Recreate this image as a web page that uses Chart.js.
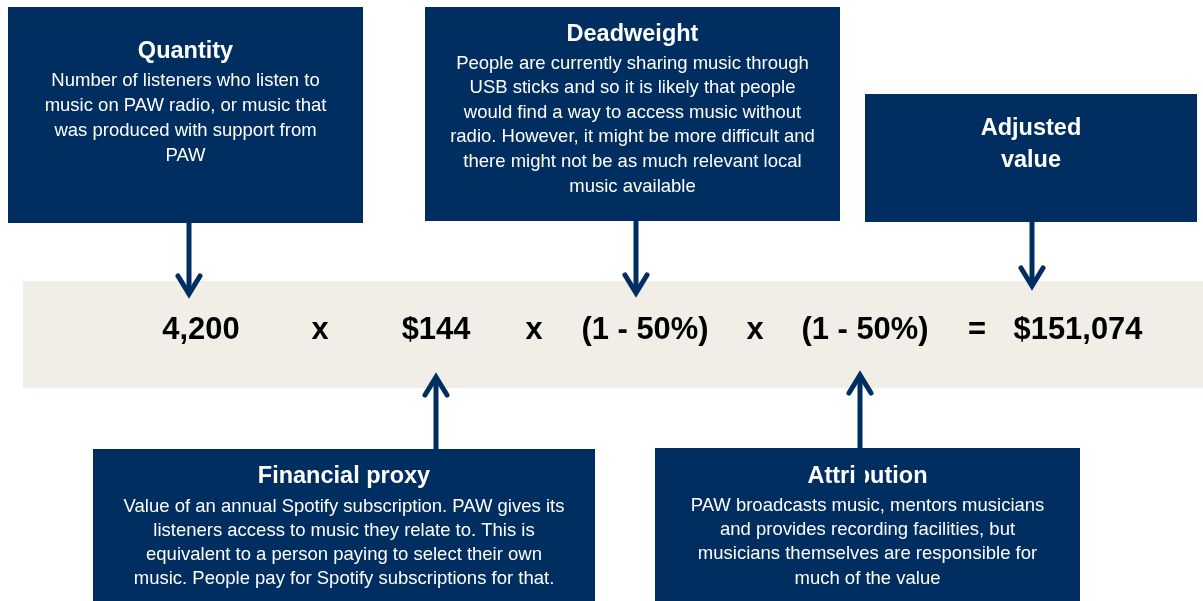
<!DOCTYPE html>
<html>
<head>
<meta charset="utf-8">
<script src="https://cdn.jsdelivr.net/npm/chart.js@4/dist/chart.umd.min.js"></script>
<style>
  html, body { margin: 0; padding: 0; background: #ffffff; }
  #wrap { width: 1203px; height: 601px; position: relative; }
</style>
</head>
<body>
<div id="wrap"><canvas id="c"></canvas></div>
<script>
// ---- data ----
const quantity = 4200;           // listeners
const financialProxy = 144;      // $ per year
const deadweight = 0.5;          // 50%
const attribution = 0.5;         // 50%
const adjustedValue = 151074;    // $ (as shown)

const boxTitles = ["Quantity", "Deadweight", "Adjusted value", "Financial proxy", "Attribution"];
const boxTexts = [
  ["Number of listeners who listen to", "music on PAW radio, or music that", "was produced with support from", "PAW"],
  ["People are currently sharing music through", "USB sticks and so it is likely that people", "would find a way to access music without", "radio. However, it might be more difficult and", "there might not be as much relevant local", "music available"],
  [],
  ["Value of an annual Spotify subscription. PAW gives its", "listeners access to music they relate to. This is", "equivalent to a person paying to select their own", "music. People pay for Spotify subscriptions for that."],
  ["PAW broadcasts music, mentors musicians", "and provides recording facilities, but", "musicians themselves are responsible for", "much of the value"]
];

// ---- layout (pixels in a 1203 x 601 coordinate space) ----
const NAVY = '#002e60';
const BAND = '#f1eee8';
const boxLayout = [
  { x0: 8,   x1: 363,  y0: 7,   y1: 223, titleY: 51.5, titleLines: ["Quantity"], textY: 80.5, lineH: 25 },
  { x0: 425, x1: 840,  y0: 7,   y1: 221, titleY: 34.5, titleLines: ["Deadweight"], textY: 63.5, lineH: 24.6 },
  { x0: 865, x1: 1197, y0: 94,  y1: 222, titleY: 128.5, titleLines: ["Adjusted", "value"], textY: 0, lineH: 32 },
  { x0: 93,  x1: 595,  y0: 449, y1: 601, titleY: 476.5, titleLines: ["Financial proxy"], textY: 506.5, lineH: 24.2 },
  { x0: 655, x1: 1080, y0: 448, y1: 601, titleY: 476.5, titleLines: ["Attribution"], textY: 505.5, lineH: 24.4 }
];
const arrows = [
  { x: 189,  from: 223, to: 296 },
  { x: 636,  from: 221, to: 295 },
  { x: 1032, from: 222, to: 288 },
  { x: 436,  from: 449, to: 375 },
  { x: 860,  from: 449, to: 373 }
];
// a navy strip that overlaps the "Attribution" title, as in the source
const overlap = { x0: 856, x1: 865, y0: 448, y1: 489 };
const band = { x0: 23, x1: 1203, y0: 281, y1: 388, textY: 330 };
const fmtInt = v => v.toLocaleString('en-US');
const fmtPct = v => '(1 - ' + Math.round(v * 100) + '%)';
const equation = [
  { t: fmtInt(quantity), x: 201 },
  { t: 'x', x: 320 },
  { t: '$' + fmtInt(financialProxy), x: 436 },
  { t: 'x', x: 534 },
  { t: fmtPct(deadweight), x: 645 },
  { t: 'x', x: 755 },
  { t: fmtPct(attribution), x: 865 },
  { t: '=', x: 977 },
  { t: '$' + fmtInt(adjustedValue), x: 1078 }
];

const FONT = "'Liberation Sans', Arial, Helvetica, sans-serif";

const diagramPlugin = {
  id: 'diagram',
  afterDraw(chart) {
    const ctx = chart.ctx;
    const xs = chart.scales.x, ys = chart.scales.y;
    const X = v => xs.getPixelForValue(v);
    const Y = v => ys.getPixelForValue(v);
    ctx.save();

    // band
    ctx.fillStyle = BAND;
    ctx.fillRect(X(band.x0), Y(band.y0), X(band.x1) - X(band.x0), Y(band.y1) - Y(band.y0));

    // equation
    ctx.fillStyle = '#000000';
    ctx.font = 'bold 32px ' + FONT;
    ctx.textAlign = 'center';
    ctx.textBaseline = 'middle';
    equation.forEach(e => {
      ctx.save();
      ctx.translate(X(e.x), Y(band.textY));
      ctx.scale(0.965, 1);
      ctx.fillText(e.t, 0, 0);
      ctx.restore();
    });

    // boxes
    boxLayout.forEach((b, i) => {
      ctx.fillStyle = NAVY;
      ctx.fillRect(X(b.x0), Y(b.y0), X(b.x1) - X(b.x0), Y(b.y1) - Y(b.y0));
      const cx = X((b.x0 + b.x1) / 2);
      ctx.fillStyle = '#ffffff';
      ctx.textAlign = 'center';
      ctx.textBaseline = 'middle';
      ctx.font = 'bold 23.5px ' + FONT;
      b.titleLines.forEach((t, k) => ctx.fillText(t, cx, Y(b.titleY + k * b.lineH)));
      ctx.font = '18.5px ' + FONT;
      boxTexts[i].forEach((t, k) => ctx.fillText(t, cx, Y(b.textY + k * b.lineH)));
    });

    ctx.fillStyle = NAVY;
    ctx.fillRect(X(overlap.x0), Y(overlap.y0), X(overlap.x1) - X(overlap.x0), Y(overlap.y1) - Y(overlap.y0));

    // arrows
    ctx.strokeStyle = NAVY;
    ctx.lineWidth = 5;
    ctx.lineJoin = 'miter';
    arrows.forEach(a => {
      const dir = a.to > a.from ? 1 : -1;
      ctx.beginPath();
      ctx.lineCap = 'butt';
      ctx.moveTo(X(a.x), Y(a.from));
      ctx.lineTo(X(a.x), Y(a.to - dir * 3));
      ctx.stroke();
      ctx.beginPath();
      ctx.lineCap = 'round';
      ctx.moveTo(X(a.x - 11), Y(a.to - dir * 20));
      ctx.lineTo(X(a.x), Y(a.to - dir * 2));
      ctx.lineTo(X(a.x + 11), Y(a.to - dir * 20));
      ctx.stroke();
    });
    ctx.restore();
  }
};

new Chart(document.getElementById('c'), {
  type: 'scatter',
  data: { datasets: [{ data: [], pointRadius: 0 }] },
  options: {
    responsive: true,
    maintainAspectRatio: false,
    animation: false,
    events: [],
    layout: { padding: 0 },
    plugins: { legend: { display: false }, tooltip: { enabled: false }, title: { display: false } },
    scales: {
      x: { type: 'linear', min: 0, max: 1203, display: false },
      y: { type: 'linear', min: 0, max: 601, reverse: true, display: false }
    }
  },
  plugins: [diagramPlugin]
});
</script>
</body>
</html>
